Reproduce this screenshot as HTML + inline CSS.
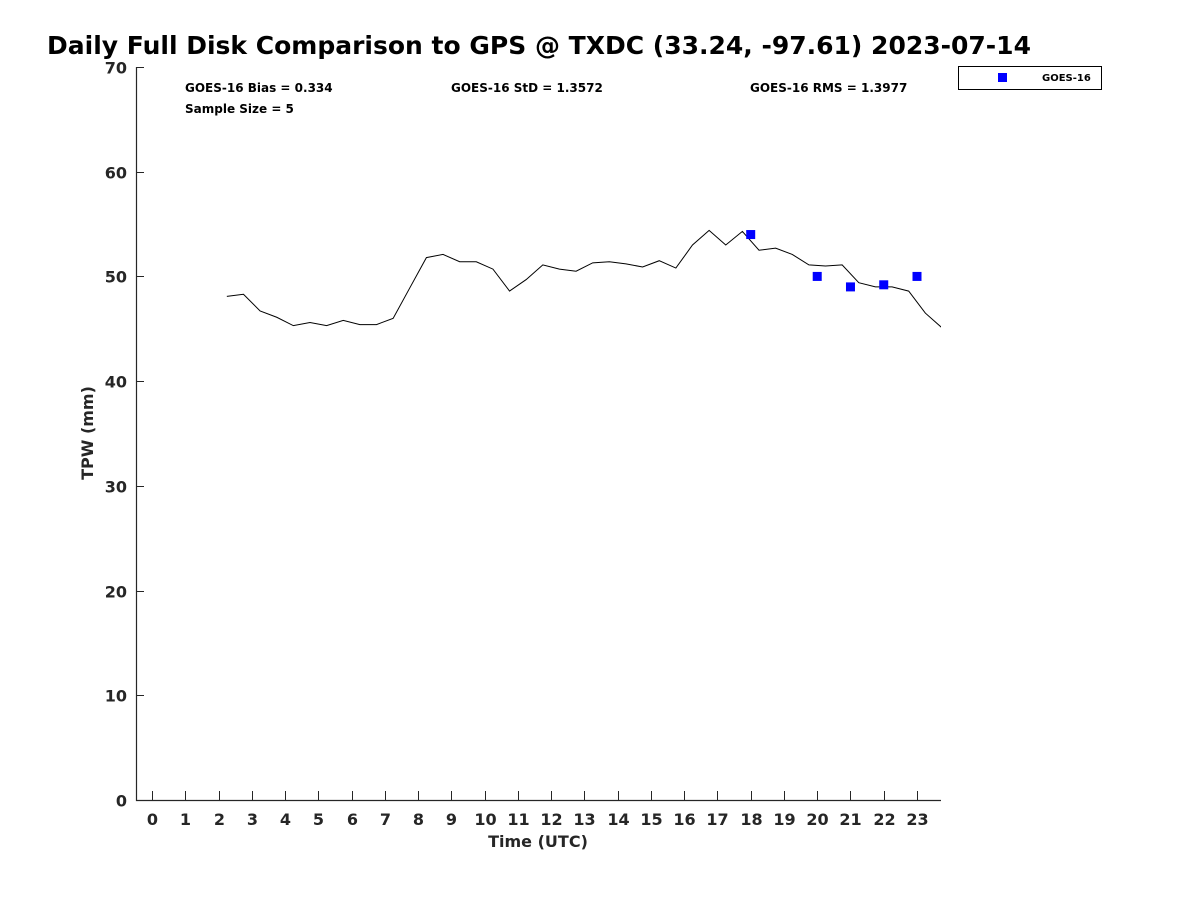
<!DOCTYPE html>
<html><head><meta charset="utf-8"><style>
body{margin:0;background:#fff;font-family:"DejaVu Sans","Liberation Sans",sans-serif;}
svg text{font-family:"DejaVu Sans","Liberation Sans",sans-serif;font-weight:bold;fill:#262626;}
</style></head><body>
<svg id="chart" width="1200" height="900" xmlns="http://www.w3.org/2000/svg">
<rect width="1200" height="900" fill="#fff"/>
<text x="47" y="54" style="font-size:25px;fill:#000">Daily Full Disk Comparison to GPS @ TXDC (33.24, -97.61) 2023-07-14</text>
<g id="axes"></g>
<g id="plot"></g>
<text x="185" y="92" style="font-size:12px;fill:#000">GOES-16 Bias = 0.334</text>
<text x="451" y="92" style="font-size:12px;fill:#000">GOES-16 StD = 1.3572</text>
<text x="750" y="92" style="font-size:12px;fill:#000">GOES-16 RMS = 1.3977</text>
<text x="185" y="113" style="font-size:12px;fill:#000">Sample Size = 5</text>
<g>
<rect x="958.5" y="66.5" width="143" height="23" fill="#fff" stroke="#000" stroke-width="1"/>
<rect x="998" y="73" width="9" height="9" fill="#0000ff"/>
<text x="1042" y="81" style="font-size:10px;fill:#000">GOES-16</text>
</g>
<text x="538" y="847" text-anchor="middle" style="font-size:16px">Time (UTC)</text>
<text transform="translate(93,433) rotate(-90)" text-anchor="middle" style="font-size:16px">TPW (mm)</text>
</svg>
<script>
const gpsTimes = [2.25,2.75,3.25,3.75,4.25,4.75,5.25,5.75,6.25,6.75,7.25,7.75,8.25,8.75,9.25,9.75,10.25,10.75,11.25,11.75,12.25,12.75,13.25,13.75,14.25,14.75,15.25,15.75,16.25,16.75,17.25,17.75,18.25,18.75,19.25,19.75,20.25,20.75,21.25,21.75,22.25,22.75,23.25,23.75];
const gpsValues = [48.1,48.3,46.7,46.1,45.3,45.6,45.3,45.8,45.4,45.4,46.0,48.9,51.8,52.1,51.4,51.4,50.7,48.6,49.7,51.1,50.7,50.5,51.3,51.4,51.2,50.9,51.5,50.8,53.0,54.4,53.0,54.3,52.5,52.7,52.1,51.1,51.0,51.1,49.4,49.0,49.0,48.6,46.5,45.1];
const goesTimes = [18,20,21,22,23];
const goesValues = [54.0,50.0,49.0,49.2,50.0];
const xTicks = [0,1,2,3,4,5,6,7,8,9,10,11,12,13,14,15,16,17,18,19,20,21,22,23];
const yTicks = [0,10,20,30,40,50,60,70];
const NS='http://www.w3.org/2000/svg';
const L=136,R=941,T=67,B=800;
const X=v=>152+v*(917-152)/23;
const Y=v=>B-(v/70)*(B-T);
function mk(tag,attrs,parent){const e=document.createElementNS(NS,tag);for(const k in attrs)e.setAttribute(k,attrs[k]);parent.appendChild(e);return e;}
const axes=document.getElementById('axes'),plot=document.getElementById('plot');
let a=mk('path',{d:`M${L+.5},${T} V${B+.5} H${R}`,fill:'none',stroke:'#262626','stroke-width':1.2},axes);


xTicks.forEach(t=>{
 const x=Math.round(X(t))+.5;
 const tk=mk('line',{x1:x,x2:x,y1:B,y2:B-9,stroke:'#262626'},axes);
 
 
 const lb=mk('text',{x:x,y:B+25,'text-anchor':'middle',style:'font-size:16px'},axes);
 lb.textContent=t;
 
 
});
yTicks.forEach(t=>{
 const y=Math.round(Y(t))+.5;
 const tk=mk('line',{x1:L,x2:L+8,y1:y,y2:y,stroke:'#262626'},axes);
 
 
 const lb=mk('text',{x:L-9,y:y+6,'text-anchor':'end',style:'font-size:16px'},axes);
 lb.textContent=t;
 
 
});
mk('clipPath',{id:'clp'},plot).appendChild(Object.assign(document.createElementNS(NS,'rect'),{}));
document.querySelector('#clp rect').setAttribute('x',L);document.querySelector('#clp rect').setAttribute('y',T);
document.querySelector('#clp rect').setAttribute('width',R-L);document.querySelector('#clp rect').setAttribute('height',B-T);
const ln=mk('polyline',{points:gpsTimes.map((t,i)=>X(t)+','+Y(gpsValues[i])).join(' '),fill:'none',stroke:'#000','stroke-width':1,'clip-path':'url(#clp)'},plot);


goesTimes.forEach((t,i)=>{
 const m=mk('rect',{x:X(t)-4.5,y:Y(goesValues[i])-4.5,width:9,height:9,fill:'#0000ff'},plot);
 
 
});
</script>
</body></html>
